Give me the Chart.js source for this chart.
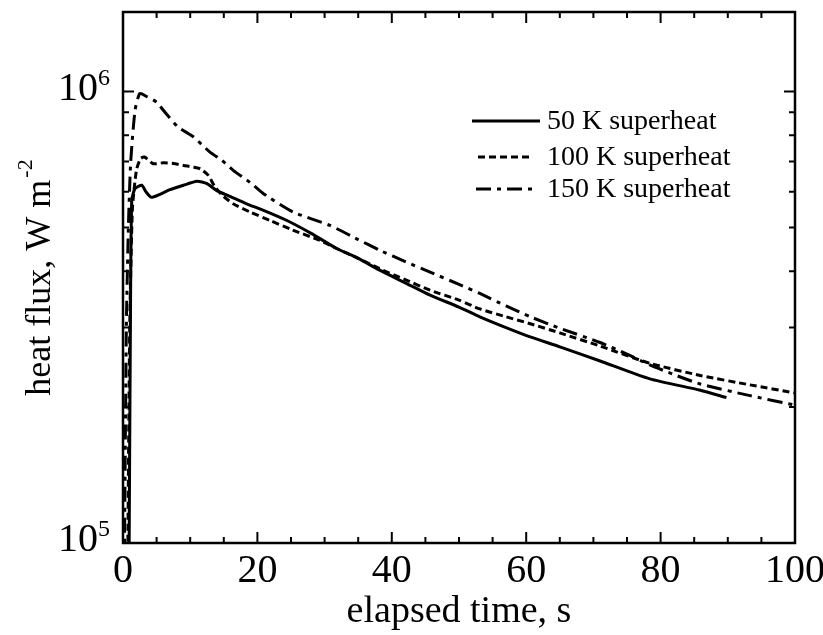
<!DOCTYPE html>
<html>
<head>
<meta charset="utf-8">
<script src="https://cdn.jsdelivr.net/npm/chart.js@4.4.0/dist/chart.umd.min.js"></script>
<style>
body { margin: 0; background: #fff; }
#wrap { width: 823px; height: 635px; }
</style>
</head>
<body>
<div id="wrap"><canvas id="fluxChart" width="823" height="635"></canvas></div>
<script>
// elapsed time (s) and heat flux (W m-2)
const time50 = [0.9, 1.1, 1.3, 1.8, 2.8, 3.4, 4.2, 5.5, 7.0, 9.0, 11.0, 12.5, 13.9, 16, 18.4, 21, 24.4, 28, 31.8, 35, 38.2, 42, 45.7, 50, 53.1, 57, 60.6, 65, 71, 78.4, 85.9, 89.8];
const flux50 = [0.9e5, 3.0e5, 5.74e5, 6.1e5, 6.2e5, 6.0e5, 5.83e5, 5.92e5, 6.06e5, 6.2e5, 6.33e5, 6.25e5, 6.04e5, 5.85e5, 5.64e5, 5.45e5, 5.18e5, 4.85e5, 4.49e5, 4.27e5, 4.02e5, 3.77e5, 3.54e5, 3.33e5, 3.17e5, 3.0e5, 2.86e5, 2.72e5, 2.53e5, 2.31e5, 2.18e5, 2.10e5];

const time100 = [0.7, 1.0, 1.4, 2.0, 2.6, 3.2, 4.5, 6.0, 7.5, 9.0, 10.5, 11.5, 12.7, 13.7, 15.0, 16.4, 19, 21.9, 25, 29.3, 31.8, 35, 38.2, 42, 45.7, 50, 53.1, 57, 60.6, 65, 71, 78.4, 85.9, 93.3, 100];
const flux100 = [0.9e5, 3.0e5, 5.5e5, 6.7e5, 7.1e5, 7.16e5, 6.92e5, 6.95e5, 6.93e5, 6.86e5, 6.8e5, 6.74e5, 6.52e5, 6.14e5, 5.85e5, 5.64e5, 5.4e5, 5.18e5, 4.95e5, 4.68e5, 4.49e5, 4.27e5, 4.05e5, 3.83e5, 3.63e5, 3.45e5, 3.30e5, 3.17e5, 3.06e5, 2.92e5, 2.73e5, 2.50e5, 2.35e5, 2.24e5, 2.15e5];

const time150 = [0.2, 0.5, 0.8, 1.15, 1.8, 2.5, 3.5, 5.0, 6.5, 8.2, 10.5, 12.9, 14.7, 16.4, 18.9, 20.9, 25.3, 30.8, 35, 38.2, 42, 45.7, 50, 53.1, 57, 60.6, 65, 71, 75, 78.4, 82, 85.9, 93.3, 100];
const flux150 = [0.9e5, 3.0e5, 5.0e5, 7.0e5, 9.1e5, 9.9e5, 9.75e5, 9.47e5, 8.9e5, 8.34e5, 7.93e5, 7.35e5, 7.04e5, 6.69e5, 6.29e5, 5.94e5, 5.41e5, 5.05e5, 4.7e5, 4.45e5, 4.2e5, 3.98e5, 3.74e5, 3.57e5, 3.35e5, 3.17e5, 2.99e5, 2.78e5, 2.62e5, 2.48e5, 2.36e5, 2.25e5, 2.12e5, 2.02e5];

const seriesLabels = ['50 K superheat', '100 K superheat', '150 K superheat'];
const xTicks = [0, 20, 40, 60, 80, 100];
const yTicks = [1e5, 1e6]; // labelled decades

const serif = "'Liberation Serif', 'Times New Roman', serif";
const dashes = [[], [7, 4], [15, 6, 4, 6]];
const legendSpan = [[472, 540], [478, 533], [476, 535]];

function toPoints(xs, ys) {
  return xs.map((x, i) => ({ x: x, y: ys[i] }));
}

// frame, inward ticks, y labels with exponents, y title, legend
const framePlugin = {
  id: 'frame',
  afterDatasetsDraw(chart) {
    const { ctx, chartArea: a, scales: { x, y } } = chart;
    ctx.save();
    ctx.strokeStyle = '#000';
    ctx.fillStyle = '#000';
    ctx.lineWidth = 2.5;
    ctx.strokeRect(a.left, a.top, a.right - a.left, a.bottom - a.top);

    ctx.lineWidth = 2;
    ctx.beginPath();
    for (let v = 0; v <= 100; v += 5) {
      const px = x.getPixelForValue(v);
      const len = v % 20 === 0 ? 11 : 6;
      ctx.moveTo(px, a.bottom); ctx.lineTo(px, a.bottom - len);
      ctx.moveTo(px, a.top); ctx.lineTo(px, a.top + len);
    }
    for (let m = 1; m <= 10; m++) {
      const py = y.getPixelForValue(m * 1e5);
      const len = (m === 1 || m === 10) ? 11 : 6;
      ctx.moveTo(a.left, py); ctx.lineTo(a.left + len, py);
      ctx.moveTo(a.right, py); ctx.lineTo(a.right - len, py);
    }
    ctx.stroke();

    // y tick labels: 10^5, 10^6
    ctx.textAlign = 'left';
    ctx.textBaseline = 'alphabetic';
    yTicks.forEach(v => {
      const py = y.getPixelForValue(v);
      const exp = String(Math.round(Math.log10(v)));
      ctx.font = '24px ' + serif;
      const ew = ctx.measureText(exp).width;
      ctx.fillText(exp, a.left - 13 - ew, py - 7);
      ctx.font = '40px ' + serif;
      const bw = ctx.measureText('10').width;
      ctx.fillText('10', a.left - 13 - ew - bw, py + 8);
    });

    // y axis title
    ctx.save();
    ctx.translate(50, (a.top + a.bottom) / 2);
    ctx.rotate(-Math.PI / 2);
    ctx.font = '36px ' + serif;
    const main = 'heat flux, W m';
    const mw = ctx.measureText(main).width;
    ctx.font = '22px ' + serif;
    const sw = ctx.measureText('-2').width;
    const start = -(mw + sw + 2) / 2;
    ctx.font = '36px ' + serif;
    ctx.fillText(main, start, 0);
    ctx.font = '22px ' + serif;
    ctx.fillText('-2', start + mw + 2, -18);
    ctx.restore();

    // legend
    const rows = [121, 157, 189];
    chart.data.datasets.forEach((ds, i) => {
      ctx.setLineDash(dashes[i]);
      ctx.lineWidth = 3;
      ctx.beginPath();
      ctx.moveTo(legendSpan[i][0], rows[i]);
      ctx.lineTo(legendSpan[i][1], rows[i]);
      ctx.stroke();
      ctx.setLineDash([]);
      ctx.font = '28px ' + serif;
      ctx.textBaseline = 'middle';
      ctx.fillText(ds.label, 547, rows[i] + 1);
    });
    ctx.restore();
  }
};

const datasets = [
  toPoints(time50, flux50),
  toPoints(time100, flux100),
  toPoints(time150, flux150)
].map((pts, i) => ({
  label: seriesLabels[i],
  data: pts,
  borderColor: '#000',
  borderWidth: 3,
  borderDash: dashes[i],
  pointRadius: 0,
  tension: 0.2,
  fill: false
}));

new Chart('fluxChart', {
  type: 'line',
  data: { datasets: datasets },
  options: {
    responsive: false,
    animation: false,
    layout: { padding: { top: 12, right: 28, left: 0, bottom: 0 } },
    plugins: { legend: { display: false }, tooltip: { enabled: false } },
    scales: {
      x: {
        type: 'linear',
        min: 0,
        max: 100,
        afterFit(s) { s.height = 92; s.paddingLeft = 0; s.paddingRight = 0; },
        afterBuildTicks(s) { s.ticks = xTicks.map(v => ({ value: v })); },
        grid: { display: false, drawTicks: false },
        border: { display: false },
        ticks: { color: '#000', font: { family: serif, size: 40 }, padding: 4, maxRotation: 0, autoSkip: false },
        title: { display: true, text: 'elapsed time, s', color: '#000', font: { family: serif, size: 38 }, padding: { top: 0, bottom: 0 } }
      },
      y: {
        type: 'logarithmic',
        min: 1e5,
        max: 1.5e6,
        afterFit(s) { s.width = 123; },
        grid: { display: false, drawTicks: false },
        border: { display: false },
        ticks: { display: false }
      }
    }
  },
  plugins: [framePlugin]
});
</script>
</body>
</html>
